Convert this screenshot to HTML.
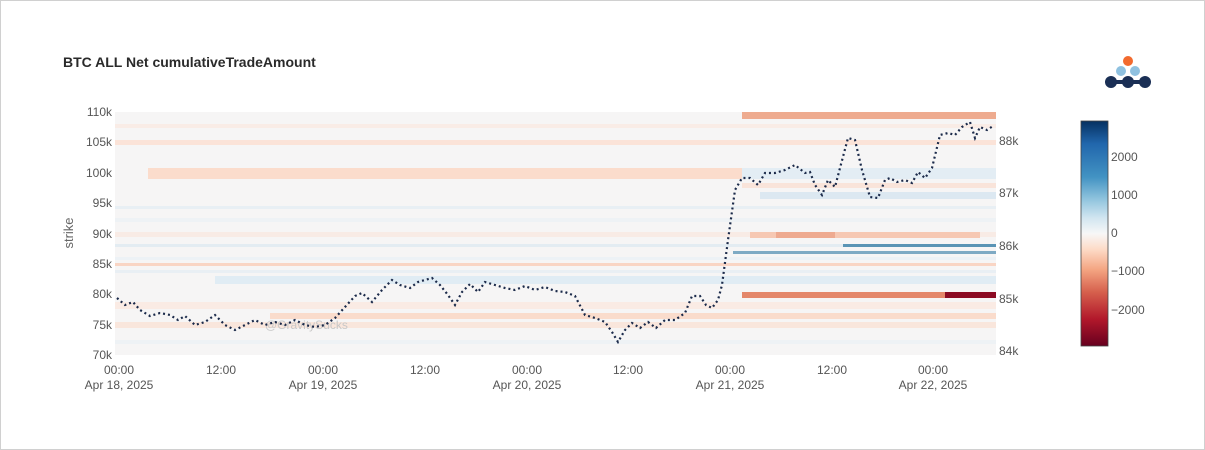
<!DOCTYPE html>
<html><head><meta charset="utf-8"><style>
html,body{margin:0;padding:0;background:#fff}
svg{display:block;font-family:"Liberation Sans",Arial,sans-serif}
</style></head><body>
<svg width="1205" height="450" viewBox="0 0 1205 450" xmlns="http://www.w3.org/2000/svg">
<defs>
<linearGradient id="cb" x1="0" y1="0" x2="0" y2="1">
<stop offset="0" stop-color="#053061"/>
<stop offset="0.1" stop-color="#2166ac"/>
<stop offset="0.25" stop-color="#4393c3"/>
<stop offset="0.35" stop-color="#92c5de"/>
<stop offset="0.43" stop-color="#d1e5f0"/>
<stop offset="0.5" stop-color="#f7f7f7"/>
<stop offset="0.57" stop-color="#fddbc7"/>
<stop offset="0.66" stop-color="#f4a582"/>
<stop offset="0.76" stop-color="#d6604d"/>
<stop offset="0.88" stop-color="#b2182b"/>
<stop offset="1" stop-color="#67001f"/>
</linearGradient>
</defs>
<rect x="0.5" y="0.5" width="1204" height="449" fill="#fff" stroke="#d0d0d0"/>
<text x="63" y="67" font-size="14" font-weight="bold" fill="#2a2a2a">BTC ALL Net cumulativeTradeAmount</text>
<!-- logo -->
<circle cx="1128" cy="61" r="5" fill="#f26a2e"/>
<circle cx="1121" cy="71" r="5" fill="#8fc1e0"/>
<circle cx="1135" cy="71" r="5" fill="#8fc1e0"/>
<rect x="1110" y="80" width="34" height="4" fill="#1a2f55"/>
<circle cx="1111" cy="82" r="6" fill="#1a2f55"/>
<circle cx="1128" cy="82" r="6" fill="#1a2f55"/>
<circle cx="1145" cy="82" r="6" fill="#1a2f55"/>
<!-- heatmap -->
<rect x="115" y="112" width="881" height="243" fill="#f6f5f5"/>
<g>
<rect x="742" y="112" width="254" height="7" fill="#eeab8f"/>
<rect x="115" y="124" width="881" height="4" fill="#f9ece6"/>
<rect x="115" y="140" width="881" height="5" fill="#fbe3d8"/>
<rect x="148" y="168" width="594" height="11" fill="#fbdccc"/>
<rect x="742" y="168" width="254" height="11" fill="#e3edf4"/>
<rect x="742" y="183" width="254" height="5" fill="#f9e4da"/>
<rect x="760" y="192" width="236" height="7" fill="#dce8f1"/>
<rect x="115" y="206" width="881" height="3" fill="#e8eff4"/>
<rect x="115" y="218" width="881" height="4" fill="#eef2f5"/>
<rect x="115" y="232" width="881" height="5" fill="#f8ebe5"/>
<rect x="750" y="232" width="230" height="6" fill="#f6c8b3"/>
<rect x="776" y="232" width="59" height="6" fill="#eeaa90"/>
<rect x="115" y="244" width="728" height="3" fill="#e3ecf2"/>
<rect x="843" y="244" width="153" height="3" fill="#5a94b5"/>
<rect x="733" y="251" width="263" height="3" fill="#7eaac4"/>
<rect x="115" y="257" width="881" height="3" fill="#edf2f6"/>
<rect x="115" y="263" width="881" height="3" fill="#f9d5c4"/>
<rect x="115" y="270" width="881" height="3" fill="#e9eff4"/>
<rect x="215" y="276" width="781" height="8" fill="#e0ecf4"/>
<rect x="742" y="292" width="203" height="6" fill="#e4876a"/>
<rect x="945" y="292" width="51" height="6" fill="#8b0a22"/>
<rect x="115" y="302" width="881" height="7" fill="#faebe4"/>
<rect x="270" y="313" width="726" height="6" fill="#fadccc"/>
<rect x="115" y="322" width="881" height="6" fill="#f9e6dc"/>
<rect x="115" y="340" width="881" height="4" fill="#eef2f5"/>
</g>
<text x="265" y="329" font-size="12" fill="#c8c8c8">@GravitySucks</text>
<!-- price line -->
<polyline fill="none" stroke="#1b2a4a" stroke-width="2.2" stroke-dasharray="2,3" points="117,298 125,305 133,302 140,310 150,316 160,313 170,315 178,320 185,316 195,325 205,322 215,315 225,325 235,330 245,325 255,320 265,325 275,322 285,325 295,320 305,325 315,327 325,325 335,318 345,307 355,296 362,293 372,302 382,290 392,280 400,285 410,288 418,282 425,280 432,278 440,285 448,295 455,305 462,292 470,284 478,292 485,282 495,285 505,288 515,290 525,286 535,290 545,287 555,291 565,292 575,296 585,315 595,318 605,322 612,332 618,342 625,330 632,323 640,328 648,322 656,328 665,320 675,320 685,313 692,296 700,296 706,305 712,308 718,300 722,285 728,240 735,190 742,178 750,178 758,185 765,173 775,173 785,170 795,165 805,173 810,172 815,185 822,195 828,180 835,187 840,168 848,138 855,140 862,170 870,197 878,198 885,180 890,178 897,182 905,180 912,183 918,172 925,178 932,168 940,135 948,133 955,135 962,127 970,122 975,138 980,127 987,130 993,126"/>
<!-- left axis -->
<g font-size="12" fill="#555" text-anchor="end">
<text x="112" y="116">110k</text>
<text x="112" y="146">105k</text>
<text x="112" y="177">100k</text>
<text x="112" y="207">95k</text>
<text x="112" y="238">90k</text>
<text x="112" y="268">85k</text>
<text x="112" y="298">80k</text>
<text x="112" y="329">75k</text>
<text x="112" y="359">70k</text>
</g>
<text transform="translate(73,233) rotate(-90)" font-size="13" fill="#666" text-anchor="middle">strike</text>
<!-- right axis -->
<g font-size="12" fill="#555">
<text x="999" y="145">88k</text>
<text x="999" y="197">87k</text>
<text x="999" y="250">86k</text>
<text x="999" y="303">85k</text>
<text x="999" y="355">84k</text>
</g>
<!-- x axis -->
<g font-size="12" fill="#555" text-anchor="middle">
<text x="119" y="374">00:00</text><text x="119" y="389">Apr 18, 2025</text>
<text x="221" y="374">12:00</text>
<text x="323" y="374">00:00</text><text x="323" y="389">Apr 19, 2025</text>
<text x="425" y="374">12:00</text>
<text x="527" y="374">00:00</text><text x="527" y="389">Apr 20, 2025</text>
<text x="628" y="374">12:00</text>
<text x="730" y="374">00:00</text><text x="730" y="389">Apr 21, 2025</text>
<text x="832" y="374">12:00</text>
<text x="933" y="374">00:00</text><text x="933" y="389">Apr 22, 2025</text>
</g>
<!-- colorbar -->
<rect x="1081" y="121" width="27" height="225" fill="url(#cb)" stroke="#444" stroke-width="0.8"/>
<g font-size="12" fill="#555">
<text x="1111" y="161">2000</text>
<text x="1111" y="199">1000</text>
<text x="1111" y="237">0</text>
<text x="1111" y="275">−1000</text>
<text x="1111" y="314">−2000</text>
</g>
</svg>
</body></html>
